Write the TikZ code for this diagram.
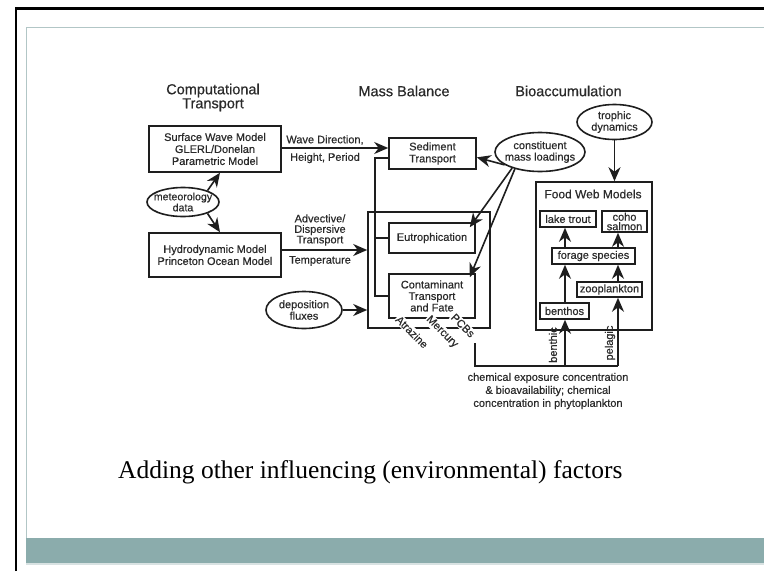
\documentclass[tikz,border=0pt]{standalone}
\usepackage{fontspec}
\setmainfont{Liberation Sans}
\newfontfamily\diagfont{Liberation Sans}[FakeBold=0.45]
\newfontfamily\slidefont{Liberation Serif}
\usetikzlibrary{arrows.meta,shapes.geometric,calc}
\definecolor{ink}{HTML}{1E1E1E}
\definecolor{txt}{HTML}{2A2A2A}
\definecolor{band}{HTML}{8BACAC}
\definecolor{rule}{HTML}{B2C6C6}
\begin{document}
\begin{tikzpicture}[x=1pt,y=-1pt,
  lbl/.style={font=\diagfont\fontsize{11}{11.5}\selectfont, text=txt, inner sep=0pt, align=center},
  head/.style={font=\diagfont\fontsize{14.5}{14}\selectfont, text=txt, inner sep=0pt, align=center},
  box/.style={rectangle, draw=ink, line width=1.6pt, inner sep=0pt, align=center,
              font=\diagfont\fontsize{11}{12}\selectfont, text=txt},
  oval/.style={ellipse, draw=ink, line width=1.6pt, inner sep=0pt},
  ln/.style={draw=ink, line width=1.6pt},
  arr/.style={ln, -{Stealth[length=14pt,width=12pt,inset=4.5pt]}},
  tag/.style={lbl, fill=white, inner sep=1pt},
]
\useasboundingbox (0,0) rectangle (764,571);
\fill[white] (0,0) rectangle (764,571);

% slide frame and footer band
\draw[black, line width=2.8pt] (16,571) -- (16,8.5) -- (764,8.5);
\draw[rule, line width=1pt] (26,538) -- (26,27.5) -- (764,27.5);
\fill[band] (26,538) rectangle (764,563);
\fill[rule!50] (26,563) rectangle (764,565);

% column headings
\node[head] (hct) at (213,97.5) {Computational\\Transport};
\node[head] (hmb) at (404,91) {Mass Balance};
\node[head] (hbio) at (568.5,91) {Bioaccumulation};

% transport models
\node[box, minimum width=132pt, minimum height=46pt] (swm) at (215,149)
  {Surface Wave Model\\GLERL/Donelan\\Parametric Model};
\node[box, minimum width=132pt, minimum height=44pt] (hdm) at (215,255)
  {Hydrodynamic Model\\Princeton Ocean Model};
\node[oval, minimum width=72pt, minimum height=29pt] (met) at (183,202) {};
\node[lbl, font=\diagfont\fontsize{10.6}{11}\selectfont] (metT) at (met) {meteorology\\data};
\node[oval, minimum width=76pt, minimum height=37pt] (dep) at (304,310) {};
\node[lbl] (depT) at (dep) {deposition\\fluxes};

% mass balance models
\node[box, minimum width=87pt, minimum height=31pt] (sed) at (432.5,153.5) {Sediment\\Transport};
\node[box, minimum width=122pt, minimum height=116pt] (mb) at (429,270) {};
\node[box, minimum width=86pt, minimum height=30pt] (eut) at (432,238) {Eutrophication};
\node[box, minimum width=86pt, minimum height=44pt, font=\diagfont\fontsize{11}{11.5}\selectfont] (con) at (432,296)
  {Contaminant\\Transport\\and Fate};
\node[oval, minimum width=90pt, minimum height=39pt] (cml) at (540,152) {};
\node[lbl] (cmlT) at (cml) {constituent\\mass loadings};

% food web
\node[oval, minimum width=75pt, minimum height=35pt] (troph) at (614.5,122) {};
\node[lbl] (trophT) at (troph) {trophic\\dynamics};
\node[box, minimum width=116pt, minimum height=148pt] (fwm) at (594,256) {};
\node[lbl, font=\diagfont\fontsize{12}{12}\selectfont] (fwmT) at (593,194) {Food Web Models};
\node[box, minimum width=56pt, minimum height=16pt] (lt) at (568,219) {lake trout};
\node[box, minimum width=45pt, minimum height=21pt, font=\diagfont\fontsize{11}{9.5}\selectfont] (coho) at (624.5,221.5) {coho\\salmon};
\node[box, minimum width=83pt, minimum height=16pt] (fs) at (593.5,256) {forage species};
\node[box, minimum width=65pt, minimum height=15pt] (zp) at (609.5,289.5) {zooplankton};
\node[box, minimum width=49pt, minimum height=16pt] (bn) at (564.5,311) {benthos};

% transport outputs
\path ($(swm.east)+(0,-1)$) coordinate (wv);
\draw[arr] (wv) -- (wv -| sed.west);
\node[lbl] (wvA) at (325,140) {Wave Direction,};
\node[lbl] (wvB) at (325,158) {Height, Period};
\path ($(hdm.east)+(0,-5)$) coordinate (adv);
\draw[arr] (adv) -- (adv -| mb.west);
\node[lbl, font=\diagfont\fontsize{11}{10.5}\selectfont] (advT) at (320,230) {Advective/\\Dispersive\\Transport};
\node[lbl] (tmp) at (320,261) {Temperature};
\draw[arr] (dep.east) -- (dep.east -| mb.west);
\draw[arr] (met.25) -- ($(swm.south)+(5,0)$);
\draw[arr] (met.-25) -- ($(hdm.north)+(5,0)$);

% hydrodynamics feed the three mass balance models
\coordinate (bus) at (375,158);
\draw[ln] (sed.west |- bus) -- (bus) -- (bus |- con.west) -- (con.west);
\draw[ln] (bus |- eut.west) -- (eut.west);

% loadings
\draw[arr] (cml.200) -- (sed.-5);
\draw[arr] (cml.210) -- ($(eut.north east)+(-6,5)$);
\draw[arr] (cml.214) -- ($(con.north east)+(-6,4)$);
\draw[arr] (troph.south) -- (troph.south |- fwm.north);

% contaminants
\node[tag, rotate=-45] (atz) at (412,332) {Atrazine};
\node[tag, rotate=-45] (hg) at (442,332) {Mercury};
\node[tag, rotate=-45] (pcb) at (463,325.5) {PCBs};

% food web links
\coordinate (xb) at (565,366);
\coordinate (xp) at (618,366);
\draw[arr] (xb |- fs.north) -- (xb |- lt.south);
\draw[arr] (xp |- fs.north) -- (xp |- coho.south);
\draw[arr] (xb |- bn.north) -- (xb |- fs.south);
\draw[arr] (xp |- zp.north) -- (xp |- fs.south);
\coordinate (drop) at (475,343);
\draw[ln] (drop) -- (drop |- xb) -- (xp);
\draw[arr] (xb) -- (xb |- bn.south);
\draw[arr] (xp) -- (xp |- zp.south);
\node[lbl, rotate=90] (bth) at (553,345) {benthic};
\node[lbl, rotate=90] (pel) at (610,343) {pelagic};
\node[lbl, font=\diagfont\fontsize{11}{13}\selectfont] (expo) at (548,391)
  {chemical exposure concentration\\\& bioavailability; chemical\\concentration in phytoplankton};

% slide caption
\node[anchor=base west, inner sep=0pt, font=\slidefont\fontsize{25.5}{28}\selectfont, text=black] (cap) at (118,478)
  {Adding other influencing (environmental) factors};
\end{tikzpicture}
\end{document}
